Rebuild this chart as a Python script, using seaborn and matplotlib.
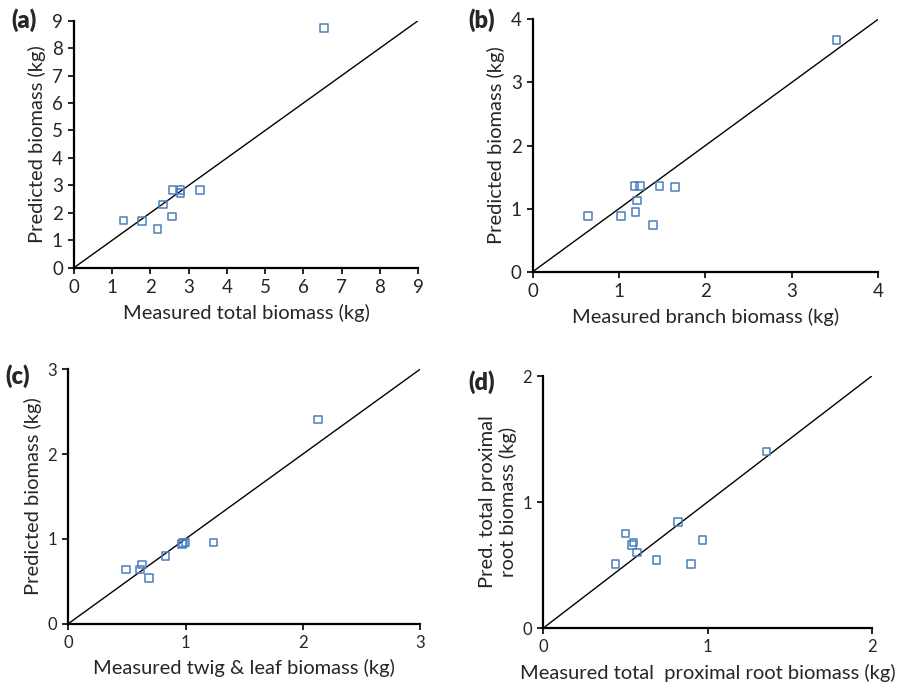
import matplotlib
matplotlib.use('Agg')
import matplotlib.pyplot as plt
import seaborn as sns
import pandas as pd

# values (measured, predicted) in kg
total_meas = [6.54, 1.29, 1.78, 2.18, 2.32, 2.56, 2.58, 2.79, 2.79, 3.30]
total_pred = [8.73, 1.72, 1.70, 1.40, 2.30, 1.87, 2.82, 2.82, 2.73, 2.82]

branch_meas = [3.52, 0.64, 1.02, 1.19, 1.18, 1.24, 1.21, 1.39, 1.47, 1.65]
branch_pred = [3.67, 0.88, 0.88, 0.95, 1.36, 1.36, 1.13, 0.74, 1.36, 1.34]

twig_meas = [2.13, 0.49, 0.61, 0.63, 0.69, 0.83, 0.97, 0.98, 1.00, 1.24]
twig_pred = [2.41, 0.64, 0.64, 0.70, 0.54, 0.80, 0.94, 0.95, 0.96, 0.96]

root_meas = [1.36, 0.44, 0.50, 0.54, 0.55, 0.57, 0.69, 0.82, 0.90, 0.97]
root_pred = [1.40, 0.51, 0.75, 0.66, 0.68, 0.60, 0.54, 0.84, 0.51, 0.70]

sns.set_style('ticks')
plt.rcParams['font.family'] = ['Lato', 'DejaVu Sans']

fig = plt.figure(figsize=(9.15, 6.86), dpi=100)

panels = [
    # tag, x, y, limit, xlabel, ylabel, axes rect, tick size, label pos
    ('(a)', total_meas, total_pred, 9, 'Measured total biomass (kg)', 'Predicted biomass (kg)',
     [0.0809, 0.6098, 0.376, 0.360], 13.5, (0.012, 0.988)),
    ('(b)', branch_meas, branch_pred, 4, 'Measured branch biomass (kg)', 'Predicted biomass (kg)',
     [0.5822, 0.6039, 0.3774, 0.3679], 13.5, (0.512, 0.988)),
    ('(c)', twig_meas, twig_pred, 3, 'Measured twig & leaf biomass (kg)', 'Predicted biomass (kg)',
     [0.0746, 0.0908, 0.3844, 0.3708], 12, (0.006, 0.469)),
    ('(d)', root_meas, root_pred, 2, 'Measured total  proximal root biomass (kg)',
     'Pred. total proximal\nroot biomass (kg)',
     [0.5938, 0.0845, 0.3589, 0.3673], 12, (0.512, 0.460)),
]

for tag, xs, ys, lim, xl, yl, rect, tsize, lpos in panels:
    ax = fig.add_axes(rect)
    df = pd.DataFrame({'measured': xs, 'predicted': ys})
    sns.scatterplot(data=df, x='measured', y='predicted', ax=ax, marker='s', s=30,
                    facecolor='none', edgecolor='#4a7ebb', linewidth=1.1, zorder=3)
    ax.axline((0, 0), slope=1, color='black', linewidth=1.0, zorder=2)
    ax.set_xlim(0, lim)
    ax.set_ylim(0, lim)
    ax.set_xticks(range(lim + 1))
    ax.set_yticks(range(lim + 1))
    ax.tick_params(labelsize=tsize, length=4, width=1.2, color='black', pad=4)
    ax.set_xlabel(xl, fontsize=14.5, labelpad=6)
    ax.set_ylabel(yl, fontsize=14.5, labelpad=4)
    for side in ['left', 'bottom']:
        ax.spines[side].set_linewidth(1.6)
        ax.spines[side].set_color('black')
    sns.despine(ax=ax)
    fig.text(lpos[0], lpos[1], tag, fontsize=17, fontweight='heavy', va='top', ha='left')

fig.savefig('out.png', dpi=100)
